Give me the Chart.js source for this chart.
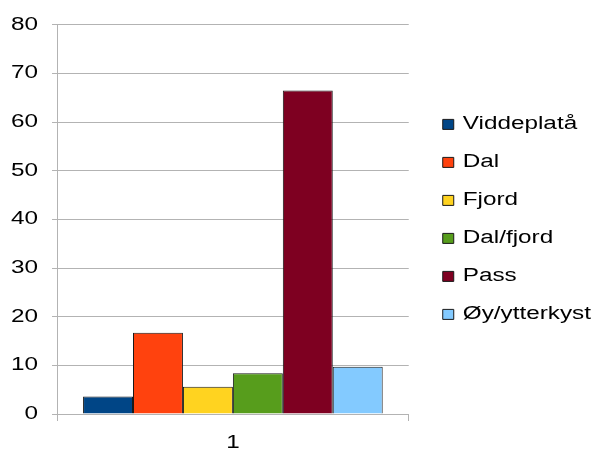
<!DOCTYPE html>
<html>
<head>
<meta charset="utf-8">
<script src="https://cdn.jsdelivr.net/npm/chart.js@4/dist/chart.umd.min.js"></script>
<style>
  html, body { margin: 0; padding: 0; background: #fff; }
  #wrap { width: 603px; height: 454px; }
</style>
</head>
<body>
<div id="wrap"><canvas id="bar-chart"></canvas></div>
<script>
// Chart data
var categories = ['1'];
var seriesNames = ['Viddeplatå', 'Dal', 'Fjord', 'Dal/fjord', 'Pass', 'Øy/ytterkyst'];
var seriesValues = [3.6, 16.7, 5.6, 8.4, 66.5, 9.7];
var seriesColors = ['#004586', '#ff420e', '#ffd320', '#579d1c', '#7e0021', '#83caff'];
var yTicks = [0, 10, 20, 30, 40, 50, 60, 70, 80];

var gridColor = '#b3b3b3';
var TEXT_STRETCH = 1.35;

// the original picture has horizontally stretched text:
// draw every label wider and let the layout measure it that way
var origMeasure = CanvasRenderingContext2D.prototype.measureText;
CanvasRenderingContext2D.prototype.measureText = function(text) {
    var m = origMeasure.call(this, text);
    return {
        width: m.width * TEXT_STRETCH,
        actualBoundingBoxAscent: m.actualBoundingBoxAscent,
        actualBoundingBoxDescent: m.actualBoundingBoxDescent
    };
};
var origFill = CanvasRenderingContext2D.prototype.fillText;
CanvasRenderingContext2D.prototype.fillText = function(text, x, y, maxWidth) {
    this.save();
    this.translate(x, y);
    this.scale(TEXT_STRETCH, 1);
    if (maxWidth !== undefined) {
        origFill.call(this, text, 0, 0, maxWidth / TEXT_STRETCH);
    } else {
        origFill.call(this, text, 0, 0);
    }
    this.restore();
};

// let the legend be wider than the default half-of-half limit
var wideLegend = {
    id: 'wideLegend',
    beforeLayout: function(chart) {
        var legend = chart.legend;
        if (legend && !legend._wide) {
            var update = legend.update;
            legend.update = function(maxWidth, maxHeight, margins) {
                return update.call(this, 220, maxHeight, margins);
            };
            legend._wide = true;
        }
    }
};

Chart.defaults.font.family = '"Liberation Sans", Arial, sans-serif';
Chart.defaults.font.size = 18;
Chart.defaults.color = '#000';

var datasets = seriesNames.map(function(name, i) {
    return {
        label: name,
        data: [seriesValues[i]],
        backgroundColor: seriesColors[i],
        borderColor: '#1a1a1a',
        borderWidth: 1,
        barPercentage: 1,
        categoryPercentage: 0.852
    };
});

var ctx = document.getElementById('bar-chart');

var chartOptions = {
    responsive: true,
    maintainAspectRatio: false,
    animation: false,
    layout: { padding: { left: -3, top: 6, right: 2, bottom: -11 } },
    plugins: {
        legend: {
            position: 'right',
            fullSize: false,
            labels: {
                boxWidth: 11,
                boxHeight: 10,
                padding: 20,
                font: { size: 18 }
            }
        },
        tooltip: { enabled: false }
    },
    scales: {
        x: {
            offset: true,
            grid: { offset: true, drawOnChartArea: false, color: gridColor, tickLength: 7 },
            border: { color: gridColor },
            ticks: { padding: 13, font: { size: 18, lineHeight: 1 } }
        },
        y: {
            min: 0,
            max: 80,
            afterBuildTicks: function(axis) {
                axis.ticks = yTicks.map(function(v) { return { value: v }; });
            },
            grid: { color: gridColor, tickLength: 5 },
            border: { color: gridColor },
            ticks: { padding: 14, font: { size: 18 } }
        },
        // empty spacer between the plot and the legend
        gap: {
            type: 'linear',
            position: 'right',
            grid: { display: false },
            border: { display: false },
            ticks: { display: false },
            afterFit: function(axis) {
                axis.width = 14;
                axis.paddingTop = 0;
                axis.paddingBottom = 0;
            }
        }
    }
};

var config = {
    type: 'bar',
    data: { labels: categories, datasets: datasets },
    options: chartOptions,
    plugins: [wideLegend]
};

var barChart = new Chart(ctx, config);
</script>
</body>
</html>
